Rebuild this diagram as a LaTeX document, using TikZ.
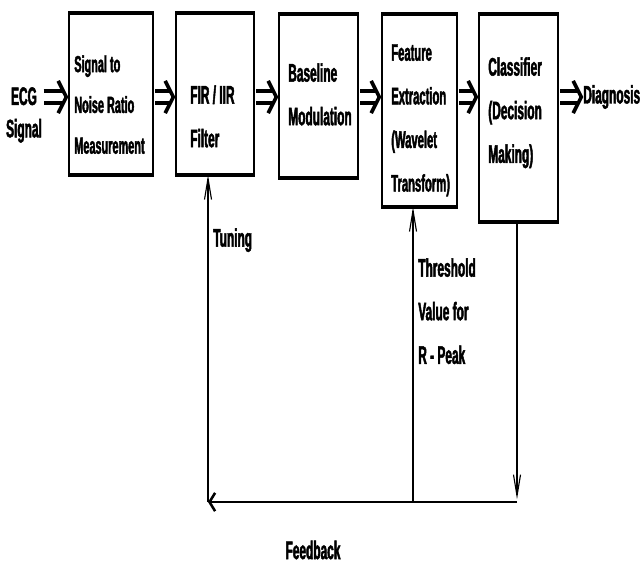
\documentclass[tikz,border=0pt]{standalone}
\usepackage{fontspec}
\setmainfont{Liberation Sans}[FakeStretch=0.47, BoldFeatures={FakeBold=1.8}]
\usetikzlibrary{arrows.meta,positioning}

\tikzset{
  blk/.style={draw, line width=1.4pt, inner sep=0pt, anchor=north west},
  lbl/.style={font=\bfseries\fontsize{18}{31}\selectfont, align=left, inner sep=0pt, anchor=north west},
  dbl/.style={double, line width=2.8pt, double distance=5.5pt},
  tip/.style={line width=2.6pt, line join=miter},
  fbv/.style={line width=0.8pt, -{Straight Barb[length=15pt,width=5pt]}},
  fbh/.style={line width=1.8pt, -{Straight Barb[length=4pt,width=13pt]}},
}

\begin{document}
\begin{tikzpicture}[x=0.025cm, y=-0.025cm]
\useasboundingbox (0,0) rectangle (643,566);

% Blocks of the chain
\node[blk, minimum width=2.1cm, minimum height=4cm] (snr) at (68,13) {};
\node[blk, minimum width=1.95cm, minimum height=4cm] (fir) at (175,13) {};
\node[blk, minimum width=1.975cm, minimum height=4.05cm] (bsl) at (278,14) {};
\node[blk, minimum width=1.875cm, minimum height=4.775cm] (fex) at (381,14) {};
\node[blk, minimum width=1.975cm, minimum height=5.15cm] (cls) at (478,14) {};

% Heavy top and bottom edges
\foreach \b in {snr,fir,bsl,fex,cls}{
  \draw[line width=3.2pt] (\b.north west) -- (\b.north east);
  \draw[line width=3.2pt] (\b.south west) -- (\b.south east);
}

% Block texts
\node[lbl, font=\bfseries\fontsize{16.5}{29}\selectfont] (snrT) at (74,55) {Signal to\\Noise Ratio\\Measurement};
\node[lbl] (firT) at (190,85) {FIR / IIR\\Filter};
\node[lbl] (bslT) at (288,63) {Baseline\\Modulation};
\node[lbl, font=\bfseries\fontsize{17}{31}\selectfont] (fexT) at (391,44) {Feature\\Extraction\\(Wavelet\\Transform)};
\node[lbl] (clsT) at (488,57) {Classifier\\(Decision\\Making)};

% Input and output
\node[lbl, align=center, anchor=north, font=\bfseries\fontsize{18}{23}\selectfont] (ecg) at (24,87) {ECG\\Signal};
\node[lbl, anchor=west] (diag) at (583,97) {Diagnosis};

% Double arrows along the chain
\coordinate (sig) at (0,97);
\foreach \a/\b in {ecg/snr, snr/fir, fir/bsl, bsl/fex, fex/cls, cls/diag}{
  \draw[dbl] ([xshift=1pt]\a.east |- sig) -- ([xshift=-4pt]\b.west |- sig);
  \draw[tip] ([shift={(-7pt,11.5pt)}]\b.west |- sig) -- ([xshift=-1.2pt]\b.west |- sig)
    -- ([shift={(-7pt,-11.5pt)}]\b.west |- sig);
}

% Feedback loop
\coordinate (fbL) at (208,502);
\coordinate (fbM) at (413,502);
\coordinate (fbR) at (517,502);
\draw[fbh] (fbR) -- (fbL);
\draw[fbv] (fbL) -- (fbL |- fir.south);
\draw[fbv] (fbM) -- (fbM |- fex.south);
\draw[fbv] (fbR |- cls.south) -- ([yshift=2pt]fbR);

% Loop labels
\node[lbl] (tune) at (213,228) {Tuning};
\node[lbl] (thr) at (418,258) {Threshold\\Value for\\R - Peak};
\node[lbl, anchor=center] (fdb) at (313,550) {Feedback};

\end{tikzpicture}
\end{document}
